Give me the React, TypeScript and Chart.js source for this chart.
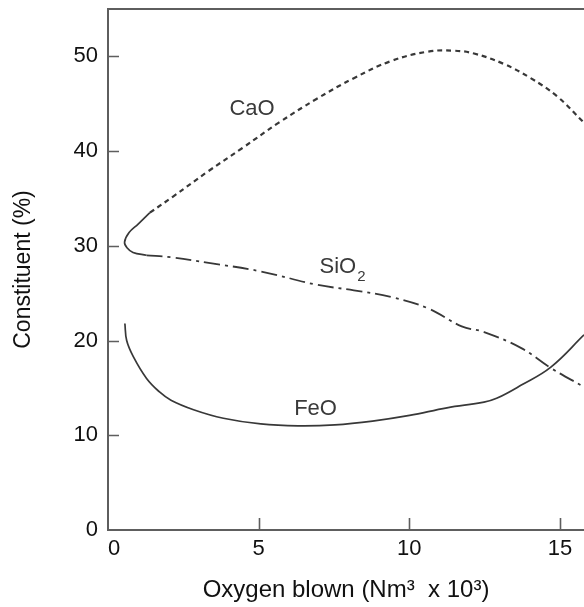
import { useEffect, useRef } from 'react';
import { Chart, registerables } from 'chart.js';

Chart.register(...registerables);

// ---- axis ranges and ticks ----
const X_MAX = 15.8;
const Y_MAX = 55;
const xTicks = [0, 5, 10, 15];
const yTicks = [0, 10, 20, 30, 40, 50];

// ---- series (Oxygen blown, Nm3 x 10^3  vs  constituent %) ----
// solid "nose" joining CaO and SiO2 at the start of the blow
const noseX = [1.39, 1.0, 0.7, 0.55, 0.63, 0.83, 1.28];
const noseY = [33.5, 32.3, 31.4, 30.4, 29.8, 29.3, 29.0];

const caoX = [1.39, 2.16, 3.34, 4.45, 5.67, 6.92, 8.16, 9.39, 10.62, 11.48, 12.15, 13.14, 14.03, 14.9, 15.8];
const caoY = [33.5, 35.2, 37.9, 40.3, 43.0, 45.5, 47.7, 49.5, 50.5, 50.6, 50.3, 49.2, 47.7, 45.8, 43.0];

const sio2X = [1.28, 2.09, 3.34, 5.07, 6.92, 8.16, 9.39, 10.62, 11.74, 12.48, 13.72, 14.7, 15.8];
const sio2Y = [29.0, 28.8, 28.2, 27.3, 25.9, 25.3, 24.6, 23.4, 21.5, 20.9, 19.2, 17.1, 15.1];

const feoX = [0.56, 0.62, 0.84, 1.28, 1.7, 2.09, 2.84, 3.83, 5.07, 6.31, 7.53, 8.78, 10.01, 11.25, 12.48, 12.9, 13.72, 14.7, 15.8];
const feoY = [21.8, 20.0, 18.3, 16.0, 14.6, 13.7, 12.7, 11.8, 11.2, 11.0, 11.1, 11.5, 12.1, 12.9, 13.5, 13.9, 15.3, 17.2, 20.6];

// ---- curve labels ----
const labelText = ['CaO', 'SiO', 'FeO'];
const labelSub = ['', '2', ''];
const labelX = [4.78, 7.02, 6.89];
const labelY = [44.5, 27.8, 12.75];
const labelAlign: CanvasTextAlign[] = ['center', 'left', 'center'];

const FONT = '"Liberation Sans", Arial, Helvetica, sans-serif';
const AXIS = '#5e5e5e';
const LINE = '#383838';
const TEXT = '#111111';

const pts = (xs: number[], ys: number[]) => xs.map((x, i) => ({ x, y: ys[i] }));

const decor = {
  id: 'decor',
  afterDatasetsDraw(chart: any) {
    const { ctx, chartArea: a, scales } = chart;
    const x = scales.x;
    const y = scales.y;
    ctx.save();
    ctx.strokeStyle = AXIS;
    ctx.lineWidth = 2;
    ctx.beginPath();
    ctx.moveTo(a.left - 1, a.top);
    ctx.lineTo(a.right, a.top);
    ctx.stroke();
    ctx.lineWidth = 1.6;
    ctx.beginPath();
    yTicks.forEach((v) => {
      if (v === 0) return;
      const p = Math.round(y.getPixelForValue(v)) + 0.5;
      ctx.moveTo(a.left, p);
      ctx.lineTo(a.left + 11, p);
    });
    xTicks.forEach((v) => {
      if (v === 0) return;
      const p = Math.round(x.getPixelForValue(v)) + 0.5;
      ctx.moveTo(p, a.bottom);
      ctx.lineTo(p, a.bottom - 12);
    });
    ctx.stroke();

    ctx.fillStyle = '#3a3a3a';
    ctx.textBaseline = 'middle';
    labelText.forEach((t, i) => {
      const px = x.getPixelForValue(labelX[i]);
      const py = y.getPixelForValue(labelY[i]);
      ctx.font = `22px ${FONT}`;
      ctx.textAlign = labelAlign[i];
      ctx.fillText(t, px, py);
      if (labelSub[i]) {
        const w = ctx.measureText(t).width;
        const sx = labelAlign[i] === 'center' ? px + w / 2 : px + w;
        ctx.font = `15px ${FONT}`;
        ctx.textAlign = 'left';
        ctx.fillText(labelSub[i], sx + 1, py + 10);
      }
    });
    ctx.restore();
  },
};

export default function App() {
  const ref = useRef<HTMLCanvasElement | null>(null);

  useEffect(() => {
    if (!ref.current) return;
    const common = {
      showLine: true,
      pointRadius: 0,
      borderColor: LINE,
      backgroundColor: LINE,
      fill: false,
      tension: 0.4,
    };
    const chart = new Chart(ref.current, {
      type: 'scatter',
      data: {
        datasets: [
          { ...common, label: 'CaO', data: pts(caoX, caoY), borderWidth: 2.2, borderDash: [5, 4] },
          { ...common, label: 'start', data: pts(noseX, noseY), borderWidth: 1.7 },
          { ...common, label: 'SiO2', data: pts(sio2X, sio2Y), borderWidth: 1.8, borderDash: [16, 5, 3, 5] },
          { ...common, label: 'FeO', data: pts(feoX, feoY), borderWidth: 1.7 },
        ],
      },
      options: {
        responsive: false,
        animation: false,
        events: [],
        layout: { padding: { top: 9, right: 0, bottom: 0, left: 0 } },
        plugins: { legend: { display: false }, tooltip: { enabled: false } },
        scales: {
          x: {
            type: 'linear',
            min: 0,
            max: X_MAX,
            afterBuildTicks: (s: any) => { s.ticks = xTicks.map((v) => ({ value: v })); },
            afterFit: (s: any) => { s.height = 77; s.paddingLeft = 0; s.paddingRight = 0; },
            grid: { display: false, drawTicks: false },
            border: { display: true, color: AXIS, width: 2 },
            ticks: {
              padding: 6,
              color: TEXT,
              font: { family: FONT, size: 22 },
              maxRotation: 0,
              autoSkip: false,
              callback: (v: any) => (Number(v) === 0 ? '\u00a0\u00a00' : String(v)),
            },
            title: {
              display: true,
              text: 'Oxygen blown (Nm\u00b3  x 10\u00b3)',
              color: TEXT,
              font: { family: FONT, size: 24 },
              padding: { top: 0, bottom: 2 },
            },
          },
          y: {
            type: 'linear',
            min: 0,
            max: Y_MAX,
            afterBuildTicks: (s: any) => { s.ticks = yTicks.map((v) => ({ value: v })); },
            afterFit: (s: any) => { s.width = 108; s.paddingTop = 0; s.paddingBottom = 0; },
            grid: { display: false, drawTicks: false },
            border: { display: true, color: AXIS, width: 2 },
            ticks: {
              padding: 10,
              color: TEXT,
              font: { family: FONT, size: 22 },
              autoSkip: false,
              callback: (v: any) => String(v),
            },
            title: {
              display: true,
              text: 'Constituent (%)',
              color: TEXT,
              font: { family: FONT, size: 23 },
              padding: { top: 10, bottom: 0 },
            },
          },
        },
      },
      plugins: [decor],
    } as any);
    return () => chart.destroy();
  }, []);

  return (
    <div style={{ position: 'absolute', left: 0, top: 0, width: 584, height: 607, background: '#fff' }}>
      <canvas ref={ref} width={584} height={607} style={{ display: 'block' }} />
    </div>
  );
}
